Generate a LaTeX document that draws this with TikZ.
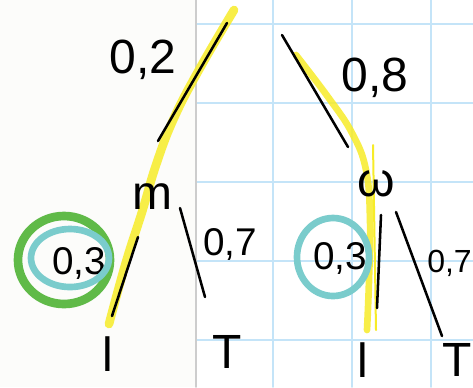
\documentclass[tikz,border=0pt]{standalone}
\usepackage{fontspec}
\setsansfont{Liberation Sans}
\usetikzlibrary{positioning}

\definecolor{gridblue}{RGB}{196,228,248}
\definecolor{margingray}{RGB}{205,205,205}
\definecolor{marker}{RGB}{247,236,40}
\definecolor{ringgreen}{RGB}{96,186,72}
\definecolor{ringcyan}{RGB}{122,204,204}
\definecolor{paper}{RGB}{252,252,250}

\begin{document}
\begin{tikzpicture}[
            x=0.75pt, y=-0.75pt,
            line cap=round,
            line join=round,
            pen/.style={draw=black, line width=1.9pt},
            highlight/.style={draw=marker, line width=6.5pt, opacity=0.85},
            label/.style={font=\sffamily\fontsize{36}{36}\selectfont, inner sep=0pt},
            small label/.style={font=\sffamily\fontsize{29}{29}\selectfont, inner sep=0pt},
            leaf/.style={font=\sffamily\fontsize{36}{36}\selectfont, inner sep=0pt}
        ]

        \useasboundingbox (0,0) rectangle (473,387);
        \fill[paper] (0,0) rectangle (196,387);
        \fill[white] (196,0) rectangle (473,387);

        % squared paper on the right page
        \foreach \gx in {273,352,431}
            \draw[gridblue, line width=1.2pt] (\gx,0) -- (\gx,387);
        \foreach \gy in {24,103,182,261,340}
            \draw[gridblue, line width=1.2pt] (196,\gy) -- (473,\gy);
        \draw[margingray, line width=1.2pt] (196,0) -- (196,387);

        % marker strokes along the chosen path
        \draw[highlight] plot[smooth, tension=0.7] coordinates
            {(234,10) (200,68) (174,118) (156,165) (142,212) (126,262) (109,324)};
        \draw[highlight, line width=5pt] plot[smooth, tension=0.7] coordinates
            {(296,55) (328,97) (352,133) (366,170) (370,220) (369,280) (367,330)};
        \draw[marker, line width=1.5pt] (373,145) -- (376,330);

        % ends of the strokes
        \coordinate (rootl) at (227,23);
        \coordinate (brl) at (158,141);
        \coordinate (rootr) at (282,35);
        \coordinate (brr) at (348,147);
        \coordinate (ml1) at (138,237);
        \coordinate (ml2) at (112,316);
        \coordinate (mr1) at (180,208);
        \coordinate (mr2) at (205,297);
        \coordinate (wl1) at (381,215);
        \coordinate (wl2) at (377,308);
        \coordinate (wr1) at (396,212);
        \coordinate (wr2) at (442,336);

        % labels
        \node[label] (pm) at (143,60) {0,2};
        \node[label] (pw) at (375,78) {0,8};
        \node[leaf] (m) at (152,197) {m};
        \node[leaf] (w) at (376,184) {ω};
        \node[small label] (pml) at (79,263) {0,3};
        \node[small label] (pmt) at (230,244) {0,7};
        \node[small label] (pwl) at (340,258) {0,3};
        \node[small label, font=\sffamily\fontsize{24}{24}\selectfont, anchor=east] (pwt) at (472,263) {0,7};

        % rings round the chosen leaf
        \draw[ringgreen, line width=6.5pt] (64,260) ellipse [x radius=46, y radius=44];
        \draw[ringcyan, line width=5pt] (70,258) ellipse [x radius=39, y radius=29];
        \draw[ringcyan, line width=5pt] (333,257) ellipse [x radius=36, y radius=39];

        % branches
        \path[pen] (rootl) edge (brl);
        \path[pen] (rootr) edge (brr);
        \path[pen] (ml1) edge (ml2);
        \path[pen] (mr1) edge (mr2);
        \path[pen] (wl1) edge (wl2);
        \path[pen] (wr1) edge (wr2);

        % leaves
        \node[leaf] (ll) at (108,354) {l};
        \node[leaf] (lt) at (227,352) {T};
        \node[leaf] (rl) at (363,360) {l};
        \node[leaf, anchor=east] (rt) at (472,360) {T};

    \end{tikzpicture}
\end{document}
